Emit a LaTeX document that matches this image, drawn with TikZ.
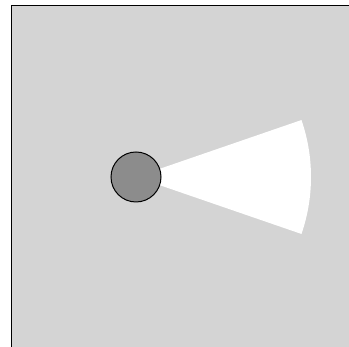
\documentclass[tikz,border=0pt]{standalone}
\usepackage{tikz}

\begin{document}
\begin{tikzpicture}[x=1pt,y=1pt,
  robot/.style={circle,draw=black,line width=1pt,fill=black!45,minimum size=50pt,inner sep=0pt}]
\useasboundingbox[fill=white] (0,0) rectangle (349,347);
\fill[black!17] (11,0) rectangle (349,342);
\draw[line width=1.5pt] (11.5,0) -- (11.5,341.5) -- (349,341.5);
% field of view
\coordinate (eye) at (136,170);
\fill[white] (eye) -- ++(19:175) arc (19:-19:175) -- cycle;
\node[robot] (bot) at (eye){};
\end{tikzpicture}
\end{document}
